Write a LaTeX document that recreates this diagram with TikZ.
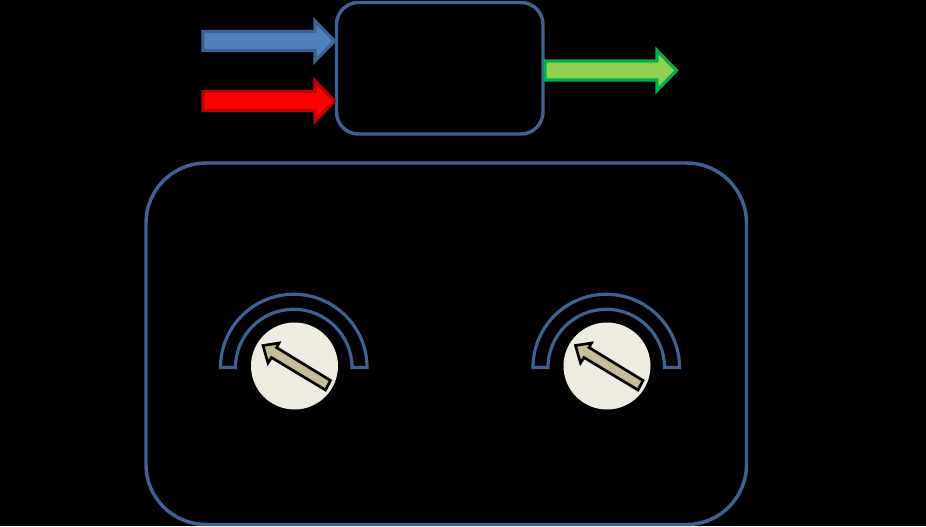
\documentclass[tikz,border=0pt]{standalone}
\usepackage{tikz}
\definecolor{boxColor}{RGB}{60,99,148}
\definecolor{blueFill}{RGB}{79,129,189}
\definecolor{redFill}{RGB}{255,0,0}
\definecolor{redLine}{RGB}{192,0,0}
\definecolor{greenFill}{RGB}{146,208,80}
\definecolor{greenLine}{RGB}{0,176,80}
\definecolor{dialFill}{RGB}{238,236,225}
\definecolor{pointerFill}{RGB}{196,189,151}
\tikzstyle{panel} = [x = .75pt, y = -.75pt]
\tikzstyle{boxStyle} = [draw=boxColor, line width=2.6pt]
\tikzstyle{blueArrow} = [draw=boxColor, fill=blueFill, line width=2.4pt, line join=miter]
\tikzstyle{redArrow} = [draw=redLine, fill=redFill, line width=2.4pt, line join=miter]
\tikzstyle{greenArrow} = [draw=greenLine, fill=greenFill, line width=2.4pt, line join=miter]
\tikzstyle{scaleStyle} = [draw=boxColor, line width=2.4pt, line join=miter]
\tikzstyle{pointerStyle} = [draw=black, fill=pointerFill, line width=2pt, line join=miter]
\newcommand{\blockArrow}[3]{\filldraw [#3] (#1, #2 - 9.5) -- + (112, 0) -- + (112, -10.5) -- (#1 + 131.5, #2) -- (#1 + 112, #2 + 20) -- + (0, -10.5) -- (#1, #2 + 9.5) -- cycle;}
\begin{document}
\begin{tikzpicture}[panel]
    \fill [black] (0,0) rectangle (926,526);
    \useasboundingbox (0,0) rectangle (926,526);
    % boxes
    \draw [boxStyle, rounded corners = 16.5pt] (336.5,2.5) rectangle (543,134);
    \draw [boxStyle, rounded corners = 45pt] (146,163) rectangle (746.5,524.5);
    % arrows
    \blockArrow{203}{41}{blueArrow}
    \blockArrow{203}{101}{redArrow}
    \blockArrow{545}{70.5}{greenArrow}
    % dials
    \foreach \dialShift in {0,312.5} {
      \begin{scope}[shift={(\dialShift,0)}]
        \draw [scaleStyle] (220.5,367.5) arc [start angle=180, end angle=0, x radius=73.25, y radius=-73.25]
          -- + (-15,0) arc [start angle=0, end angle=180, x radius=58.25, y radius=-58.25] -- cycle;
        \fill [dialFill] (294.5,366) circle [radius=43.5];
        \filldraw [pointerStyle] (263,345.5) -- (279,343) -- (276.5,347.5)
          -- (330.5,380.5) -- (325.5,390) -- (271.5,357.5) -- (268,363) -- cycle;
      \end{scope}
    }
\end{tikzpicture}
\end{document}
